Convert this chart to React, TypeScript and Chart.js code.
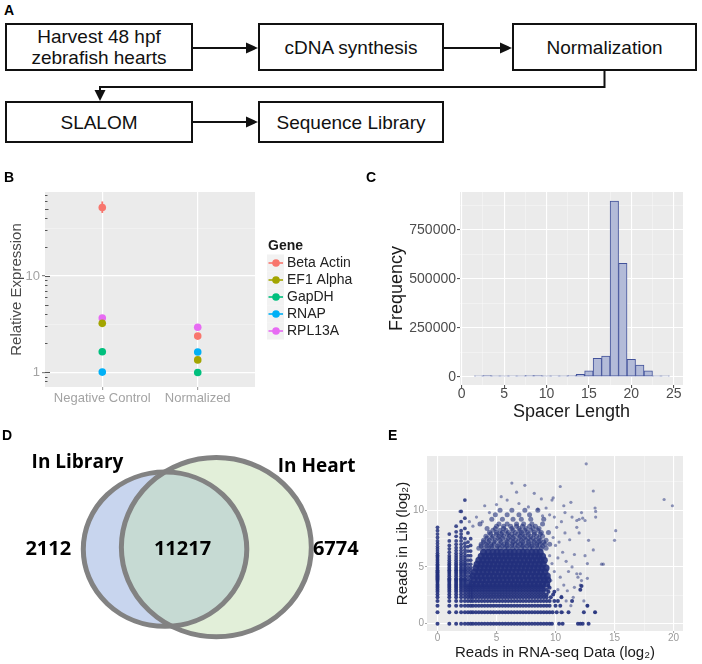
import React, { useEffect, useRef } from 'react';
import { Chart, registerables } from 'chart.js';
Chart.register(...registerables);

const FONT = '"Liberation Sans", Arial, Helvetica, sans-serif';
Chart.defaults.font.family = FONT;

// ---------------- Panel A (flow chart) ----------------
const flowSteps = ['Harvest 48 hpf\nzebrafish hearts', 'cDNA synthesis', 'Normalization', 'SLALOM', 'Sequence Library'];

// ---------------- Panel B ----------------
const bConditions = ['Negative Control', 'Normalized'];
const bGenes = ['Beta Actin', 'EF1 Alpha', 'GapDH', 'RNAP', 'RPL13A'];
const bColors = ['#F8766D', '#A3A500', '#00BF7D', '#00B0F6', '#E76BF3'];
const bNegControl = [51.8, 3.22, 1.63, 1.0, 3.66];
const bNormalized = [2.37, 1.34, 0.99, 1.62, 2.93];
const bNegLow = [45.4, 3.12, 1.58, 0.97, 3.56];
const bNegHigh = [59.8, 3.32, 1.68, 1.03, 3.76];
const bNormLow = [2.3, 1.3, 0.96, 1.57, 2.85];
const bNormHigh = [2.44, 1.38, 1.02, 1.67, 3.01];
const bYTicks = [1, 3.162, 10, 31.62];
const bYLabels = [1, 10];
const bLogTicks = [0.8, 0.9, 2, 3, 4, 5, 6, 7, 8, 9, 20, 30, 40, 50, 60, 70];

// ---------------- Panel C ----------------
const spacerLength = [2, 3, 4, 5, 6, 7, 8, 9, 10, 11, 12, 13, 14, 15, 16, 17, 18, 19, 20, 21, 22, 23, 24];
const spacerFreq = [4500, 5500, 5000, 4800, 4600, 5200, 6000, 5500, 5000, 4600, 4800, 6500, 12000, 31000, 94000, 106000, 898000, 580000, 89000, 60000, 31000, 5000, 4500];
const cXTicks = [0, 2.5, 5, 7.5, 10, 12.5, 15, 17.5, 20, 22.5, 25];
const cYTicks = [0, 125000, 250000, 375000, 500000, 625000, 750000, 875000];

// ---------------- Panel D ----------------
const vennSets = ['In Library', 'In Heart'];
const vennCounts = [2112, 11217, 6774]; // library only, both, heart only

// ---------------- Panel E ----------------
const eXTicks = [0, 2.5, 5, 7.5, 10, 12.5, 15, 17.5, 20];
const eYTicks = [0, 2.5, 5, 7.5, 10, 12.5];
const eStripeY = [0, 1, 1.58, 2, 2.32, 2.58, 2.81, 3, 3.17, 3.32];
const eStripeX = [
  [0, 1, 1.58, 2, 2.32, 2.58, 2.81, 3, 3.25, 3.5, 3.75, 4, 4.25, 4.5, 4.75, 5, 5.25, 5.5, 5.75, 6, 6.25, 6.5, 6.75, 7, 7.25, 7.5, 7.75, 8, 8.25, 8.5, 8.75, 9, 9.25, 9.5, 9.7, 10.3, 10.6, 11.9, 12.1, 12.3, 12.8],
  [0, 1, 1.58, 2, 2.32, 2.58, 2.81, 3, 3.25, 3.5, 3.75, 4, 4.25, 4.5, 4.75, 5, 5.25, 5.5, 5.75, 6, 6.25, 6.5, 6.75, 7, 7.25, 7.5, 7.75, 8, 8.25, 8.5, 8.75, 9, 9.25, 9.5, 9.75, 10.1, 10.5, 11.1, 12.4, 13.35],
  [0, 1, 1.58, 2, 2.32, 2.58, 2.81, 3, 3.25, 3.5, 3.75, 4, 4.25, 4.5, 4.75, 5, 5.25, 5.5, 5.75, 6, 6.25, 6.5, 6.75, 7, 7.25, 7.5, 7.75, 8, 8.25, 8.5, 8.75, 9, 9.25, 9.5, 10.0, 10.4, 12.7],
  [0, 1, 1.58, 2, 2.32, 2.58, 2.81, 3, 3.25, 3.5, 3.75, 4, 4.25, 4.5, 4.75, 5, 5.25, 5.5, 5.75, 6, 6.25, 6.5, 6.75, 7, 7.25, 7.5, 7.75, 8, 8.25, 8.5, 8.75, 9, 9.25, 9.5, 9.9, 10.2, 11.4],
  [0, 1, 1.58, 2, 2.32, 2.58, 2.81, 3, 3.25, 3.5, 3.75, 4, 4.25, 4.5, 4.75, 5, 5.25, 5.5, 5.75, 6, 6.25, 6.5, 6.75, 7, 7.25, 7.5, 7.75, 8, 8.25, 8.5, 8.75, 9, 9.25, 9.6, 10.5],
  [0, 1, 1.58, 2, 2.32, 2.58, 2.81, 3, 3.25, 3.5, 3.75, 4, 4.25, 4.5, 4.75, 5, 5.25, 5.5, 5.75, 6, 6.25, 6.5, 6.75, 7, 7.25, 7.5, 7.75, 8, 8.25, 8.5, 8.75, 9, 9.25, 9.8],
  [0, 1, 1.58, 2, 2.32, 2.58, 2.81, 3, 3.25, 3.5, 3.75, 4, 4.25, 4.5, 4.75, 5, 5.25, 5.5, 5.75, 6, 6.25, 6.5, 6.75, 7, 7.25, 7.5, 7.75, 8, 8.25, 8.5, 8.75, 9, 9.4, 9.9],
  [0, 1, 1.58, 2, 2.32, 2.58, 2.81, 3, 3.25, 3.5, 3.75, 4, 4.25, 4.5, 4.75, 5, 5.25, 5.5, 5.75, 6, 6.25, 6.5, 6.75, 7, 7.25, 7.5, 7.75, 8, 8.25, 8.5, 8.75, 9, 9.25, 12.1],
  [0, 1, 1.58, 2, 2.32, 2.58, 2.81, 3, 3.25, 3.5, 3.75, 4, 4.25, 4.5, 4.75, 5, 5.25, 5.5, 5.75, 6, 6.25, 6.5, 6.75, 7, 7.25, 7.5, 7.75, 8, 8.25, 8.5, 8.75, 9, 9.5],
  [0, 1, 1.58, 2, 2.32, 2.58, 2.81, 3, 3.25, 3.5, 3.75, 4, 4.25, 4.5, 4.75, 5, 5.25, 5.5, 5.75, 6, 6.25, 6.5, 6.75, 7, 7.25, 7.5, 7.75, 8, 8.25, 8.5, 8.75, 9, 9.4, 12.2],
];
const eColumnX = [0, 1, 1.58, 2, 2.32, 2.58, 2.81];
const eColumnY = [
  [3.46, 3.58, 3.7, 3.81, 3.91, 4, 4.09, 4.17, 4.25, 4.32, 4.39, 4.46, 4.52, 4.58, 4.64, 4.7, 4.81, 4.91, 5, 5.13, 5.25, 5.39, 5.52, 5.64, 5.78, 5.91, 6.04, 6.2, 6.4, 6.6, 6.8, 7.05, 7.3, 7.6, 7.9, 8.2, 8.5],
  [3.46, 3.58, 3.7, 3.81, 3.91, 4, 4.17, 4.32, 4.46, 4.58, 4.7, 4.81, 4.95, 5.1, 5.25, 5.4, 5.6, 5.8, 6, 6.3, 6.6, 6.9, 7.3, 7.9],
  [3.46, 3.58, 3.7, 3.81, 3.91, 4, 4.17, 4.32, 4.46, 4.58, 4.7, 4.81, 4.95, 5.1, 5.25, 5.4, 5.6, 5.8, 6, 6.2, 6.45, 6.7, 7, 7.3, 7.7, 8.1, 8.6],
  [3.46, 3.58, 3.7, 3.81, 3.91, 4, 4.17, 4.32, 4.46, 4.58, 4.7, 4.81, 4.95, 5.1, 5.25, 5.4, 5.6, 5.8, 6, 6.2, 6.45, 6.7, 7, 7.3, 7.6, 7.9, 8.2, 9, 9.9],
  [3.46, 3.58, 3.7, 3.81, 3.91, 4, 4.17, 4.32, 4.46, 4.58, 4.7, 4.81, 4.95, 5.1, 5.25, 5.4, 5.6, 5.8, 6, 6.25, 6.5, 6.8, 7.1, 7.5, 8.4, 9.3, 10.9],
  [3.46, 3.7, 3.91, 4.17, 4.46, 4.7, 4.95, 5.25, 5.6, 6, 6.4, 6.8, 7.2, 8.0],
  [3.46, 3.7, 3.91, 4.17, 4.46, 4.7, 4.95, 5.25, 5.6, 6, 6.4, 6.9, 7.5],
];
const eCoreY = [3.5, 3.85, 4.2, 4.55, 4.9, 5.25, 5.6, 5.95, 6.3];
const eCoreX = [
  [2.95, 3.3, 3.65, 4.0, 4.35, 4.7, 5.05, 5.4, 5.75, 6.1, 6.45, 6.8, 7.15, 7.5, 7.85, 8.2, 8.55, 8.9, 9.25],
  [3.1, 3.45, 3.8, 4.15, 4.5, 4.85, 5.2, 5.55, 5.9, 6.25, 6.6, 6.95, 7.3, 7.65, 8.0, 8.35, 8.7, 9.05, 9.35],
  [3.0, 3.35, 3.7, 4.05, 4.4, 4.75, 5.1, 5.45, 5.8, 6.15, 6.5, 6.85, 7.2, 7.55, 7.9, 8.25, 8.6, 8.95, 9.3],
  [3.15, 3.5, 3.85, 4.2, 4.55, 4.9, 5.25, 5.6, 5.95, 6.3, 6.65, 7.0, 7.35, 7.7, 8.05, 8.4, 8.75, 9.1],
  [3.25, 3.6, 3.95, 4.3, 4.65, 5.0, 5.35, 5.7, 6.05, 6.4, 6.75, 7.1, 7.45, 7.8, 8.15, 8.5, 8.85, 9.2],
  [3.35, 3.7, 4.05, 4.4, 4.75, 5.1, 5.45, 5.8, 6.15, 6.5, 6.85, 7.2, 7.55, 7.9, 8.25, 8.6, 8.95],
  [3.5, 3.85, 4.2, 4.55, 4.9, 5.25, 5.6, 5.95, 6.3, 6.65, 7.0, 7.35, 7.7, 8.05, 8.4, 8.75, 9.05],
  [3.7, 4.05, 4.4, 4.75, 5.1, 5.45, 5.8, 6.15, 6.5, 6.85, 7.2, 7.55, 7.9, 8.25, 8.6, 8.9],
  [3.9, 4.3, 4.7, 5.05, 5.4, 5.8, 6.15, 6.5, 6.9, 7.25, 7.6, 8.0, 8.35, 8.7],
];
const eMidY = [6.65, 6.85, 7.0, 7.2, 7.35, 7.55, 7.7, 7.9, 8.05, 8.25, 8.4, 8.6, 8.8, 9.2, 9.6, 10.0];
const eMidX = [
  [3.5, 3.9, 4.3, 4.6, 5.0, 5.3, 5.7, 6.0, 6.4, 6.7, 7.1, 7.4, 7.8, 8.1, 8.5, 8.8, 9.2],
  [3.7, 4.2, 4.6, 5.1, 5.5, 5.9, 6.3, 6.8, 7.2, 7.6, 8.0, 8.4, 8.9],
  [3.7, 4.1, 4.5, 4.8, 5.2, 5.6, 5.9, 6.3, 6.6, 7.0, 7.3, 7.7, 8.0, 8.4, 8.7, 9.1, 9.5],
  [3.9, 4.3, 4.8, 5.4, 5.9, 6.4, 6.8, 7.2, 7.7, 8.2, 8.6, 9.0],
  [3.9, 4.4, 4.9, 5.3, 5.8, 6.2, 6.6, 7.1, 7.5, 7.9, 8.3, 8.7, 9.2],
  [4.2, 4.6, 5.1, 5.5, 6.0, 6.4, 6.9, 7.3, 7.7, 8.1, 8.6],
  [4.1, 4.7, 5.2, 5.6, 6.1, 6.5, 7.0, 7.4, 7.9, 8.4, 8.9],
  [4.5, 5.0, 5.4, 5.9, 6.3, 6.8, 7.2, 7.7, 8.2, 8.7],
  [4.4, 5.0, 5.5, 6.0, 6.6, 7.1, 7.6, 8.2, 8.8, 9.4],
  [4.7, 5.3, 5.8, 6.4, 7.0, 7.4, 7.9, 8.5],
  [4.2, 4.9, 5.6, 6.3, 6.9, 7.5, 8.1, 8.6],
  [5.0, 5.6, 6.2, 6.7, 7.2, 7.8, 8.3],
  [3.6, 5.2, 5.9, 6.7, 7.3, 8.0, 8.9],
  [4.6, 5.5, 6.4, 7.1, 7.9, 9.0],
  [4.9, 5.9, 6.9, 7.8],
  [5.3, 6.3, 7.4, 8.5],
];
const eOutliers = [
  [9.5, 6.0], [9.7, 5.3], [9.9, 4.6], [10.2, 5.8], [9.6, 3.8], [10.4, 4.1], [10.0, 6.9], [10.6, 6.3], [9.8, 7.6], [10.3, 7.2],
  [10.9, 5.5], [11.1, 4.6], [10.7, 3.4], [11.0, 2.9], [10.2, 3.0], [10.5, 2.4], [10.9, 2.0], [11.3, 1.58], [10.8, 8.0], [11.2, 7.4],
  [10.1, 8.5], [10.5, 9.0], [9.9, 9.4], [11.6, 6.1], [11.4, 5.0], [11.8, 4.4], [12.1, 4.4], [11.9, 4.1], [12.2, 3.8], [11.6, 3.2],
  [12.1, 3.4], [12.7, 4.0], [12.7, 5.3], [12.5, 6.0], [13.2, 6.5], [12.8, 7.35], [11.8, 8.5], [12.0, 8.0], [11.8, 9.1], [12.0, 9.2],
  [12.3, 9.3], [12.5, 9.1], [11.4, 9.4], [10.8, 9.8], [10.7, 10.4], [11.3, 10.7], [12.2, 9.8], [13.4, 9.4], [13.4, 9.9], [13.35, 10.2],
  [13.2, 11.7], [12.6, 14.1], [10.4, 12.1], [15.1, 8.2], [15.0, 7.35], [13.9, 5.25], [14.05, 5.25], [19.2, 10.95], [19.9, 10.4], [13.35, 1.0],
  [12.7, 1.58], [11.5, 2.32], [12.4, 2.0], [10.6, 1.0], [6.3, 12.4], [6.7, 11.6], [7.4, 12.2], [8.2, 11.5], [8.8, 11.0], [9.7, 10.9],
  [9.8, 11.1], [5.4, 11.2], [5.9, 10.9], [5.0, 10.5], [4.0, 10.4], [1.9, 9.9], [6.9, 10.6], [7.7, 10.3], [8.5, 10.1], [9.2, 10.2],
  [4.4, 9.8], [3.3, 9.4], [3.0, 8.6], [2.7, 9.0], [9.5, 9.6], [8.9, 9.5], [3.8, 9.0],
];

// ---------------- helpers ----------------
const panelBg = (color: string) => ({
  id: 'panelBg',
  beforeDraw(chart: any) {
    const { ctx, chartArea: a } = chart;
    ctx.save();
    ctx.fillStyle = color;
    ctx.fillRect(a.left, a.top, a.right - a.left, a.bottom - a.top);
    ctx.restore();
  },
});

function ChartCanvas({ make, left, top, width, height }: any) {
  const ref = useRef<HTMLCanvasElement>(null);
  useEffect(() => {
    const chart = new Chart(ref.current as HTMLCanvasElement, make());
    return () => chart.destroy();
  }, []);
  return (
    <div style={{ position: 'absolute', left, top, width, height }}>
      <canvas ref={ref} width={width} height={height} style={{ width, height, display: 'block' }} />
    </div>
  );
}

const isMajor = (v: number, step: number) => Math.abs(v / step - Math.round(v / step)) < 1e-6;

// ---------------- Chart B ----------------
const bExtras = {
  id: 'bExtras',
  beforeDatasetsDraw(chart: any) {
    const { ctx, chartArea: a } = chart;
    const xs = chart.scales.x, ys = chart.scales.y;
    ctx.save();
    ctx.strokeStyle = '#555';
    ctx.lineWidth = 1;
    bLogTicks.forEach((v) => {
      const y = Math.round(ys.getPixelForValue(v)) + 0.5;
      const len = v === 5 || v === 50 ? 3.5 : 2.5;
      ctx.beginPath(); ctx.moveTo(a.left, y); ctx.lineTo(a.left + len, y); ctx.stroke();
    });
    bYLabels.forEach((v) => {
      const y = Math.round(ys.getPixelForValue(v)) + 0.5;
      ctx.beginPath(); ctx.moveTo(a.left, y); ctx.lineTo(a.left + 5, y); ctx.stroke();
    });
    ctx.lineWidth = 1.8;
    bGenes.forEach((g, i) => {
      ctx.strokeStyle = bColors[i];
      [[1, bNegLow[i], bNegHigh[i]], [2, bNormLow[i], bNormHigh[i]]].forEach(([x, lo, hi]) => {
        const px = xs.getPixelForValue(x);
        ctx.beginPath(); ctx.moveTo(px, ys.getPixelForValue(lo)); ctx.lineTo(px, ys.getPixelForValue(hi)); ctx.stroke();
      });
    });
    ctx.restore();
  },
  afterDraw(chart: any) {
    const { ctx } = chart;
    ctx.save();
    ctx.textBaseline = 'middle';
    ctx.textAlign = 'left';
    ctx.fillStyle = '#1a1a1a';
    ctx.font = 'bold 14px ' + FONT;
    ctx.fillText('Gene', 268, 81);
    bGenes.forEach((g, i) => {
      const cy = 98 + i * 17;
      ctx.fillStyle = '#f2f2f2';
      ctx.fillRect(267, cy - 8.5, 17, 17);
      ctx.strokeStyle = bColors[i];
      ctx.lineWidth = 1.6;
      ctx.beginPath(); ctx.moveTo(268.5, cy); ctx.lineTo(283, cy); ctx.stroke();
      ctx.fillStyle = bColors[i];
      ctx.beginPath(); ctx.arc(276, cy, 3.8, 0, Math.PI * 2); ctx.fill();
      ctx.fillStyle = '#222';
      ctx.font = '14px ' + FONT;
      ctx.fillText(g, 287, cy + 0.5);
    });
    ctx.restore();
  },
};

function makeB(): any {
  const datasets = bGenes.map((g, i) => ({
    label: g,
    data: [{ x: 1, y: bNegControl[i] }, { x: 2, y: bNormalized[i] }],
    backgroundColor: bColors[i],
    borderColor: bColors[i],
    pointRadius: 3.8,
    pointBorderWidth: 0,
    showLine: false,
  }));
  return {
    type: 'scatter',
    data: { datasets },
    options: {
      responsive: false,
      animation: false,
      events: [],
      layout: { padding: { top: 27, right: 105, left: 0, bottom: 0 } },
      plugins: { legend: { display: false }, tooltip: { enabled: false } },
      scales: {
        x: {
          type: 'linear', min: 0.4, max: 2.6,
          afterBuildTicks: (s: any) => { s.ticks = [{ value: 1 }, { value: 2 }]; },
          afterFit: (s: any) => { s.height = 28; },
          ticks: { callback: (v: any) => bConditions[Math.round(v) - 1] ?? '', color: '#a3a3a3', font: { size: 13, lineHeight: 1 }, padding: 2, autoSkip: false, maxRotation: 0 },
          grid: { color: '#ffffff', lineWidth: 1.2, tickColor: '#a3a3a3', tickLength: 3 },
          border: { display: false },
        },
        y: {
          type: 'logarithmic', min: 0.73, max: 75,
          afterBuildTicks: (s: any) => { s.ticks = bYTicks.map((v) => ({ value: v })); },
          afterFit: (s: any) => { s.width = 45; },
          ticks: { callback: (v: any) => (bYLabels.includes(v) ? String(v) : ''), color: '#a3a3a3', font: { size: 13 }, padding: 2, autoSkip: false },
          grid: {
            color: (c: any) => (c.tick && bYLabels.includes(c.tick.value) ? '#ffffff' : 'rgba(255,255,255,0.55)'),
            lineWidth: (c: any) => (c.tick && bYLabels.includes(c.tick.value) ? 1.2 : 0.6),
            tickColor: (c: any) => (c.tick && bYLabels.includes(c.tick.value) ? '#888' : 'rgba(0,0,0,0)'),
            tickLength: 3,
          },
          border: { display: false },
          title: { display: true, text: 'Relative Expression', color: '#4a4a4a', font: { size: 15 }, padding: { top: 8, bottom: 0 } },
        },
      },
    },
    plugins: [panelBg('#ebebeb'), bExtras],
  };
}

// ---------------- Chart C ----------------
function gridOpts(step: number) {
  return {
    offset: false,
    color: (c: any) => (c.tick && isMajor(c.tick.value, step) ? '#ffffff' : 'rgba(255,255,255,0.6)'),
    lineWidth: (c: any) => (c.tick && isMajor(c.tick.value, step) ? 1.1 : 0.6),
    tickColor: (c: any) => (c.tick && isMajor(c.tick.value, step) ? '#555' : 'rgba(0,0,0,0)'),
    tickLength: 3,
  };
}

function makeC(): any {
  return {
    type: 'bar',
    data: {
      datasets: [{
        label: 'Frequency',
        data: spacerLength.map((x, i) => ({ x, y: spacerFreq[i] })),
        backgroundColor: '#b3bbd8',
        borderColor: '#42529a',
        borderWidth: 1,
        borderSkipped: false,
        barPercentage: 1,
        categoryPercentage: 1,
      }],
    },
    options: {
      responsive: false,
      animation: false,
      events: [],
      layout: { padding: { top: 27, right: 19, left: 0, bottom: 0 } },
      plugins: { legend: { display: false }, tooltip: { enabled: false } },
      scales: {
        x: {
          type: 'linear', min: -0.2, max: 26.1, offset: false,
          afterBuildTicks: (s: any) => { s.ticks = cXTicks.map((v) => ({ value: v })); },
          afterFit: (s: any) => { s.height = 40; },
          ticks: { callback: (v: any) => (isMajor(v, 5) ? String(v) : ''), color: '#4d4d4d', font: { size: 14, lineHeight: 1 }, padding: -1, autoSkip: false, maxRotation: 0 },
          grid: gridOpts(5),
          border: { display: false },
          title: { display: true, text: 'Spacer Length', color: '#1a1a1a', font: { size: 18, lineHeight: 1.2 }, padding: { top: 0, bottom: 2.5 } },
        },
        y: {
          type: 'linear', min: -42000, max: 944000,
          afterBuildTicks: (s: any) => { s.ticks = cYTicks.map((v) => ({ value: v })); },
          afterFit: (s: any) => { s.width = 100; },
          ticks: { callback: (v: any) => (isMajor(v, 250000) ? String(v) : ''), color: '#4d4d4d', font: { size: 14 }, padding: 1, autoSkip: false },
          grid: gridOpts(250000),
          border: { display: false },
          title: { display: true, text: 'Frequency', color: '#1a1a1a', font: { size: 18, lineHeight: 1.2 }, padding: { top: 26, bottom: 0 } },
        },
      },
    },
    plugins: [panelBg('#ebebeb')],
  };
}

// ---------------- Chart D (Venn) ----------------
const vennPlugin = {
  id: 'venn',
  afterDraw(chart: any) {
    const { ctx } = chart;
    const xs = chart.scales.x, ys = chart.scales.y;
    const k = 0.668;
    const rL = k * Math.sqrt(vennCounts[0] + vennCounts[1]);
    const rH = k * Math.sqrt(vennCounts[1] + vennCounts[2]);
    const cL = [155.7, 114.8];
    const cH = [204.1, 116.8];
    const path = (c: number[], r: number) => {
      const px = xs.getPixelForValue(c[0]);
      const py = ys.getPixelForValue(c[1]);
      const rx = Math.abs(xs.getPixelForValue(c[0] + r) - px);
      const ry = Math.abs(ys.getPixelForValue(c[1] + r) - py);
      ctx.beginPath();
      ctx.ellipse(px, py, rx, ry, 0, 0, Math.PI * 2);
    };
    ctx.save();
    path(cH, rH); ctx.fillStyle = '#e2efd9'; ctx.fill();
    path(cL, rL); ctx.fillStyle = '#c8d5ee'; ctx.fill();
    ctx.save();
    path(cL, rL); ctx.clip();
    path(cH, rH); ctx.fillStyle = '#c6dad3'; ctx.fill();
    ctx.restore();
    ctx.lineWidth = 5;
    ctx.strokeStyle = '#828282';
    path(cH, rH); ctx.stroke();
    path(cL, rL); ctx.stroke();

    ctx.fillStyle = '#000';
    ctx.textAlign = 'center';
    ctx.textBaseline = 'alphabetic';
    ctx.font = 'bold 19px "Open Sans", ' + FONT;
    ctx.fillText(vennSets[0], 77.5, 48.3);
    ctx.fillText(vennSets[1], 316.7, 52);
    ctx.font = 'bold 20px "Open Sans", ' + FONT;
    ctx.fillText(String(vennCounts[0]), 48.3, 135);
    ctx.fillText(String(vennCounts[1]), 182.5, 135);
    ctx.fillText(String(vennCounts[2]), 335.8, 135);
    ctx.restore();
  },
};

function makeD(): any {
  return {
    type: 'scatter',
    data: { datasets: [] },
    options: {
      responsive: false,
      animation: false,
      events: [],
      layout: { padding: 0 },
      plugins: { legend: { display: false }, tooltip: { enabled: false } },
      scales: {
        x: { type: 'linear', min: 0, max: 358.49, display: false },
        y: { type: 'linear', min: 0, max: 244, display: false },
      },
    },
    plugins: [vennPlugin],
  };
}

// ---------------- Chart E ----------------
function makeE(): any {
  const navy = (a: number) => `rgba(34,48,124,${a})`;
  const stripes: any[] = [];
  eStripeY.forEach((y, i) => eStripeX[i].forEach((x) => stripes.push({ x, y })));
  const columns: any[] = [];
  eColumnX.forEach((x, i) => eColumnY[i].forEach((y) => columns.push({ x, y })));
  const core: any[] = [];
  eCoreY.forEach((y, i) => eCoreX[i].forEach((x) => core.push({ x, y })));
  const mid: any[] = [];
  eMidY.forEach((y, i) => eMidX[i].forEach((x) => mid.push({ x, y })));
  const outl = eOutliers.map(([x, y]) => ({ x, y }));
  const ds = (data: any[], r: number, a: number) => ({
    data, pointRadius: r, pointBorderWidth: 0, backgroundColor: navy(a), borderColor: navy(a), showLine: false,
  });
  return {
    type: 'scatter',
    data: {
      datasets: [
        ds(outl, 1.6, 0.5),
        ds(columns, 1.9, 0.85),
        ds(stripes, 2.0, 0.9),
        ds(mid, 2.5, 0.6),
        ds(core, 3.5, 0.9),
      ],
    },
    options: {
      responsive: false,
      animation: false,
      events: [],
      layout: { padding: { top: 26, right: 19, left: 0, bottom: 0 } },
      plugins: { legend: { display: false }, tooltip: { enabled: false } },
      scales: {
        x: {
          type: 'linear', min: -0.89, max: 20.8,
          afterBuildTicks: (s: any) => { s.ticks = eXTicks.map((v) => ({ value: v })); },
          afterFit: (s: any) => { s.height = 33; },
          ticks: { callback: (v: any) => (isMajor(v, 5) ? String(v) : ''), color: '#9a9a9a', font: { size: 10, lineHeight: 1 }, padding: 0, autoSkip: false, maxRotation: 0 },
          grid: { ...gridOpts(5), tickLength: 2, tickColor: (c: any) => (c.tick && isMajor(c.tick.value, 5) ? '#aaa' : 'rgba(0,0,0,0)') },
          border: { display: false },
          title: { display: true, text: 'Reads in RNA-seq Data (log₂)', color: '#1a1a1a', font: { size: 15, lineHeight: 1.2 }, padding: { top: 0, bottom: 2 } },
        },
        y: {
          type: 'linear', min: -0.65, max: 14.79,
          afterBuildTicks: (s: any) => { s.ticks = eYTicks.map((v) => ({ value: v })); },
          afterFit: (s: any) => { s.width = 47; },
          ticks: { callback: (v: any) => (isMajor(v, 5) ? String(v) : ''), color: '#9a9a9a', font: { size: 10 }, padding: 1, autoSkip: false },
          grid: { ...gridOpts(5), tickLength: 2, tickColor: (c: any) => (c.tick && isMajor(c.tick.value, 5) ? '#aaa' : 'rgba(0,0,0,0)') },
          border: { display: false },
          title: { display: true, text: 'Reads in Lib (log₂)', color: '#1a1a1a', font: { size: 15, lineHeight: 1.2 }, padding: { top: 14, bottom: 0 } },
        },
      },
    },
    plugins: [panelBg('#ebebeb')],
  };
}

// ---------------- Panel A components ----------------
const boxStyle = (left: number, top: number, width: number, height: number): React.CSSProperties => ({
  position: 'absolute', left, top, width, height, boxSizing: 'border-box', border: '2px solid #111',
  display: 'flex', alignItems: 'center', justifyContent: 'center', textAlign: 'center',
  fontFamily: FONT, fontSize: 19, lineHeight: '21px', color: '#111', whiteSpace: 'pre-line', background: '#fff',
});

const panelLabel = (text: string, left: number, top: number) => (
  <div style={{ position: 'absolute', left, top, fontFamily: FONT, fontWeight: 'bold', fontSize: 14, lineHeight: '14px', color: '#000' }}>{text}</div>
);

export default function App() {
  return (
    <div style={{ position: 'absolute', left: 0, top: 0, width: 702, height: 664, background: '#fff', overflow: 'hidden' }}>
      {panelLabel('A', 4, 3)}
      <svg width={702} height={160} style={{ position: 'absolute', left: 0, top: 0 }}>
        <g stroke="#111" strokeWidth={2} fill="none">
          <line x1={193} y1={48} x2={248} y2={48} />
          <line x1={443} y1={48} x2={502} y2={48} />
          <polyline points="604.5,71 604.5,87 100,87 100,92" />
          <line x1={193} y1={122} x2={248} y2={122} />
        </g>
        <g fill="#111">
          <polygon points="258,48 246,42.5 246,53.5" />
          <polygon points="512,48 500,42.5 500,53.5" />
          <polygon points="100,101 94.5,90 105.5,90" />
          <polygon points="258,122 246,116.5 246,127.5" />
        </g>
      </svg>
      <div style={boxStyle(5, 23, 188, 48)}>{flowSteps[0]}</div>
      <div style={boxStyle(258, 23, 186, 48)}>{flowSteps[1]}</div>
      <div style={boxStyle(512, 23, 185, 48)}>{flowSteps[2]}</div>
      <div style={boxStyle(5, 101, 188, 42)}>{flowSteps[3]}</div>
      <div style={boxStyle(258, 101, 186, 42)}>{flowSteps[4]}</div>

      <ChartCanvas make={makeB} left={0} top={165} width={360} height={250} />
      <ChartCanvas make={makeC} left={360} top={165} width={342} height={260} />
      <ChartCanvas make={makeD} left={0} top={420} width={380} height={244} />
      <ChartCanvas make={makeE} left={380} top={430} width={322} height={234} />

      {panelLabel('B', 4, 170)}
      {panelLabel('C', 366, 170)}
      {panelLabel('D', 2, 428)}
      {panelLabel('E', 388, 428)}
    </div>
  );
}
